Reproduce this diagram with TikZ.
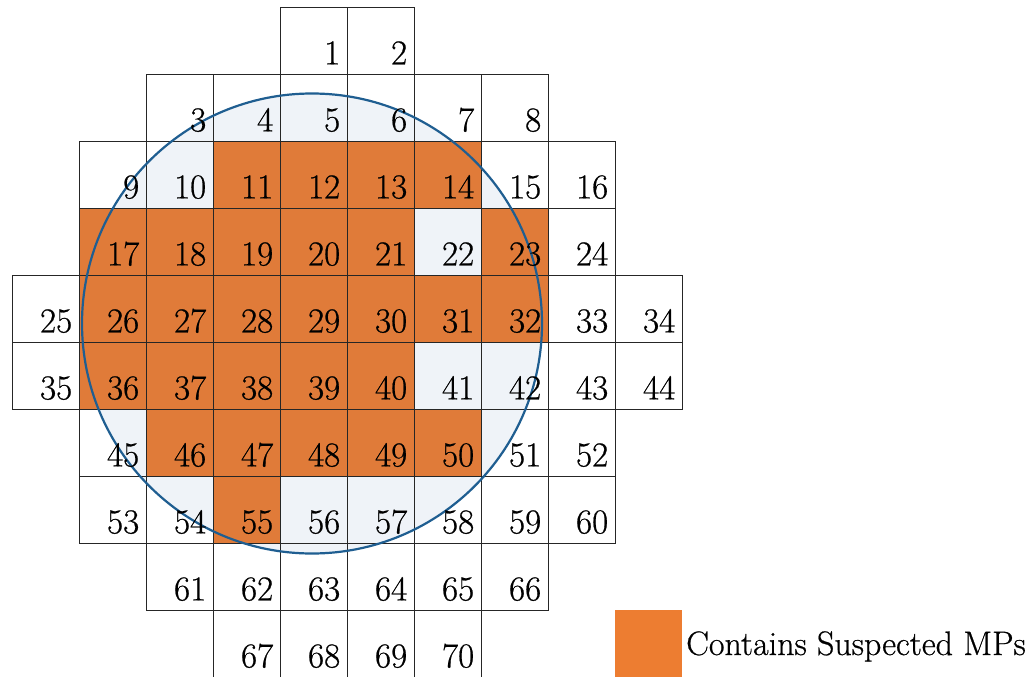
\documentclass[tikz,border=0pt]{standalone}
\usepackage{fontspec}
\newfontfamily\lserif{Latin Modern Roman}[FakeBold=0.6]
\usetikzlibrary{calc}
\pgfdeclarelayer{circ}\pgfdeclarelayer{fills}\pgfdeclarelayer{top}
\pgfsetlayers{circ,fills,main,top}
\definecolor{mpor}{HTML}{E07B39}
\definecolor{legor}{HTML}{ED7D31}
\definecolor{waferfill}{HTML}{EFF3F8}
\definecolor{waferline}{HTML}{1F5E91}
\begin{document}
\begin{tikzpicture}[x=1pt,y=1pt,
  cell/.style={rectangle, draw=black!85, line width=0.8pt, minimum size=67pt, inner sep=0pt},
  num/.style={font=\lserif\fontsize{35}{40}\selectfont, inner sep=0pt, anchor=base east},
  mpcell/.style={fill=mpor},
  wafer/.style={draw=waferline, line width=2.2pt},
]
\useasboundingbox (0,0) rectangle (1033,-677);
\begin{pgfonlayer}{circ}
  \fill[white] (0,0) rectangle (1033,-677);
  \fill[waferfill] (312,-323.5) circle (230);
\end{pgfonlayer}
\foreach \r/\a/\b/\s in {0/4/5/1, 1/2/7/3, 2/1/8/9, 3/1/8/17, 4/0/9/25, 5/0/9/35, 6/1/8/45, 7/1/8/53, 8/2/7/61, 9/3/6/67}{
  \foreach \c in {\a,...,\b}{
    \pgfmathtruncatemacro{\n}{\s+\c-\a}
    \node[cell] (c\n) at ({12+67*\c+33.5},{-(7+67*\r+33.5)}) {};
    \begin{pgfonlayer}{top}
      \node[num] (n\n) at ($(c\n.south east)+(-7,10)$) {\n};
    \end{pgfonlayer}
  }
}
\begin{pgfonlayer}{fills}
  \foreach \n in {11,12,13,14,17,18,19,20,21,23,26,27,28,29,30,31,32,36,37,38,39,40,46,47,48,49,50,55}{
    \fill[mpcell] (c\n.south west) rectangle (c\n.north east);
  }
\end{pgfonlayer}
\draw[wafer] (312,-323.5) circle (230);
\node[fill=legor, minimum size=67pt, inner sep=0pt] (legbox) at (648.5,-643.5) {};
\node[anchor=base west, inner sep=0pt, font=\lserif\fontsize{34}{40}\selectfont] (legtext) at (686,-655) {Contains Suspected MPs};
\end{tikzpicture}
\end{document}
